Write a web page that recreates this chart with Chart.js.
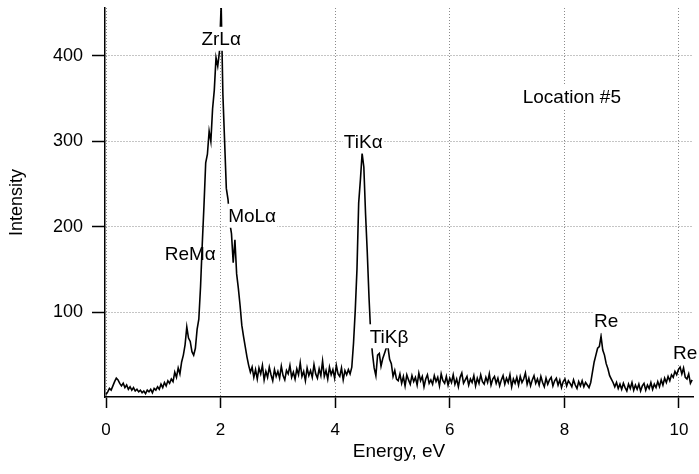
<!DOCTYPE html>
<html>
<head>
<meta charset="utf-8">
<script src="https://cdn.jsdelivr.net/npm/chart.js@4/dist/chart.umd.min.js"></script>
<style>
  body { margin: 0; background: #fff; }
</style>
</head>
<body>
<canvas id="spectrum" width="699" height="474"></canvas>
<script>
// EDS spectrum - Location #5

// channel calibration of the detector
const energyStart = 0;     // eV, first channel
const energyStep = 0.03;   // eV per channel

// counts per channel (one row = 10 channels = 0.3 eV)
const intensity = [
    4, 7, 11, 9, 14, 19, 23, 21, 17, 14,
    17, 12, 15, 10, 13, 9, 12, 8, 10, 7,
    9, 6, 8, 5, 9, 7, 10, 6, 11, 9,
    13, 10, 16, 12, 18, 14, 20, 17, 22, 19,
    30, 24, 35, 28, 42, 50, 62, 83, 70, 66,
    54, 50, 58, 80, 92, 130, 180, 225, 275, 285,
    312, 300, 338, 360, 398, 388, 405, 460, 355, 300,
    245, 232, 205, 192, 158, 185, 145, 128, 108, 85,
    72, 60, 48, 38, 30, 36, 24, 33, 22, 35,
    28, 38, 21, 31, 24, 36, 27, 20, 33, 25,
    31, 23, 37, 26, 21, 32, 28, 38, 24, 30,
    22, 34, 27, 41, 25, 31, 20, 35, 26, 32,
    24, 39, 28, 23, 34, 26, 43, 25, 32, 22,
    36, 27, 33, 23, 38, 28, 25, 35, 21, 32,
    27, 33, 28, 36, 64, 102, 150, 228, 255, 286,
    270, 215, 170, 118, 75, 52, 35, 26, 50, 52,
    37, 46, 52, 58, 60, 45, 40, 25, 32, 22,
    20, 28, 17, 25, 14, 27, 21, 16, 26, 19,
    24, 15, 29, 20, 25, 13, 22, 27, 17, 21,
    16, 26, 19, 24, 14, 28, 20, 17, 25, 15,
    23, 18, 27, 16, 22, 13, 24, 29, 17, 21,
    25, 15, 22, 18, 26, 14, 23, 17, 27, 19,
    16, 24, 18, 28, 15, 22, 25, 17, 23, 14,
    21, 26, 16, 23, 18, 27, 13, 22, 17, 24,
    15, 25, 18, 22, 29, 16, 23, 14, 21, 26,
    17, 22, 15, 25, 18, 13, 23, 16, 21, 24,
    14, 20, 23, 15, 21, 12, 19, 22, 14, 20,
    17, 13, 21, 15, 11, 19, 14, 20, 13, 18,
    15, 12, 18, 30, 42, 50, 58, 60, 72, 56,
    50, 40, 34, 26, 22, 18, 13, 18, 11, 16,
    10, 17, 12, 8, 16, 11, 18, 9, 15, 10,
    16, 8, 14, 17, 9, 15, 11, 18, 10, 16,
    12, 19, 13, 21, 15, 23, 18, 25, 20, 27,
    24, 31, 27, 33, 36, 28, 35, 24, 22, 28,
    17, 21
];

const xTicks = [0, 2, 4, 6, 8, 10];
const yTicks = [100, 200, 300, 400];

// peak labels (energy in eV, intensity in counts)
const labelTexts = ['ZrLα', 'ReMα', 'MoLα', 'TiKα', 'TiKβ', 'Re', 'Re', 'Location #5'];
const labelEnergy = [2.01, 1.47, 2.55, 4.49, 4.94, 8.73, 10.11, 8.13];
const labelCounts = [420, 168, 213, 300, 72, 90, 53, 352];
const labelBoxed = [true, false, true, true, true, true, true, true];

const FONT = '"Liberation Sans", Arial, Helvetica, sans-serif';

const points = intensity.map((v, i) => ({
    x: Math.round((energyStart + i * energyStep) * 1000) / 1000,
    y: v
}));

// labels sit on a white box, so they hide the line and grid behind them
const peakLabelPlugin = {
    id: 'peakLabels',
    afterDatasetsDraw(chart) {
        const { ctx } = chart;
        const xs = chart.scales.x;
        const ys = chart.scales.y;
        ctx.save();
        ctx.font = '19px ' + FONT;
        ctx.textAlign = 'center';
        ctx.textBaseline = 'middle';
        labelTexts.forEach((txt, i) => {
            const px = xs.getPixelForValue(labelEnergy[i]);
            const py = ys.getPixelForValue(labelCounts[i]);
            const w = ctx.measureText(txt).width;
            if (labelBoxed[i]) {
                ctx.fillStyle = '#fff';
                ctx.fillRect(px - w / 2 - 1, py - 12, w + 2, 24);
            }
            ctx.fillStyle = '#000';
            ctx.fillText(txt, px, py + 1);
        });
        ctx.restore();
    }
};

const ctx = document.getElementById('spectrum').getContext('2d');
const chart = new Chart(ctx, {
    type: 'line',
    data: {
        datasets: [{
            data: points,
            borderColor: '#000',
            borderWidth: 1.6,
            pointRadius: 0,
            tension: 0,
            fill: false
        }]
    },
    options: {
        responsive: false,
        animation: false,
        devicePixelRatio: 1,
        layout: { padding: { left: 0, right: 6, top: 8, bottom: 0 } },
        plugins: {
            legend: { display: false },
            tooltip: { enabled: false }
        },
        scales: {
            x: {
                type: 'linear',
                min: -0.0175,
                max: 10.245,
                afterBuildTicks: (scale) => { scale.ticks = xTicks.map(v => ({ value: v })); },
                afterFit: (scale) => {
                    scale.height = 77;
                    scale.paddingLeft = 0;
                    scale.paddingRight = 0;
                },
                ticks: {
                    color: '#000',
                    padding: 12,
                    maxRotation: 0,
                    font: { family: FONT, size: 17 }
                },
                grid: {
                    color: '#8a8a8a',
                    lineWidth: 1,
                    tickColor: '#000',
                    tickLength: 11,
                    tickWidth: 1.5
                },
                border: { color: '#000', width: 1.5, dash: [1, 2] },
                title: {
                    display: true,
                    text: 'Energy, eV',
                    color: '#000',
                    font: { family: FONT, size: 19 },
                    padding: { top: 0, bottom: 11 }
                }
            },
            y: {
                min: 1,
                max: 456,
                afterBuildTicks: (scale) => { scale.ticks = yTicks.map(v => ({ value: v })); },
                afterFit: (scale) => {
                    scale.width = 105;
                    scale.paddingTop = 0;
                    scale.paddingBottom = 0;
                },
                ticks: {
                    color: '#000',
                    padding: 9,
                    font: { family: FONT, size: 18 }
                },
                grid: {
                    color: '#8a8a8a',
                    lineWidth: 1,
                    tickColor: '#000',
                    tickLength: 13,
                    tickWidth: 1.5
                },
                border: { color: '#000', width: 1.5, dash: [1, 2] },
                title: {
                    display: true,
                    text: 'Intensity',
                    color: '#000',
                    font: { family: FONT, size: 18 },
                    padding: { top: 6, bottom: 0 }
                }
            }
        }
    },
    plugins: [peakLabelPlugin]
});
</script>
</body>
</html>
